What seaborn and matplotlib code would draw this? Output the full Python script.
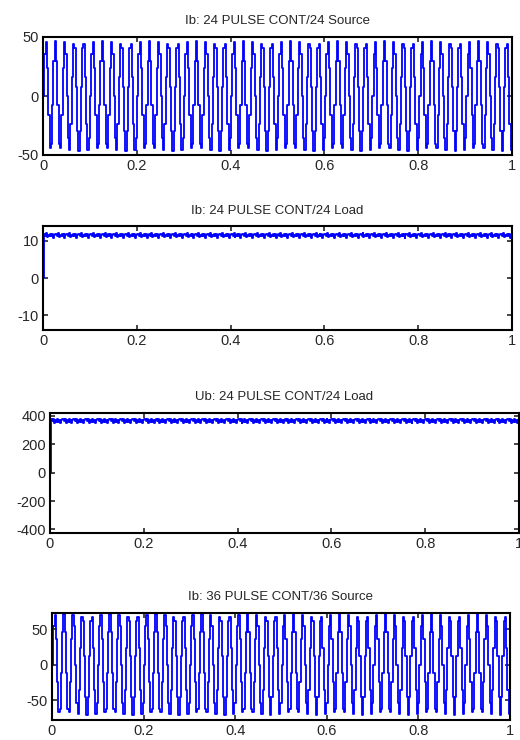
import numpy as np
import pandas as pd
import matplotlib
matplotlib.use('Agg')
import matplotlib.pyplot as plt
import seaborn as sns

# stepped source currents: one 0.1 s block of samples, repeated 10 times
src24_block = [0, 36, 46, 24, -16, -44, -41, -8, 30, 47, 30, -8,
               -41, -44, -16, 24, 46, 36, 0, -36, -46, -24, 16, 44,
               41, 8, -30, -47, -30, 8, 41, 44, 16, -24, -46, -36]
src36_block = [0, 54, 70, 36, -24, -67, -62, -12, 46, 71, 46, -12,
               -62, -67, -24, 36, 70, 54, 0, -54, -70, -36, 24, 67,
               62, 12, -46, -71, -46, 12, 62, 67, 24, -36, -70, -54]
n_blocks = 10

# load current / voltage: start value then a short repeating ripple pattern
load_i_ripple = [11.8, 11.3, 12.0, 11.1, 11.7, 11.4, 11.9, 11.3, 11.8, 10.9, 11.6, 11.9]
load_u_ripple = [375, 362, 378, 352, 372, 360, 380, 358, 374, 348, 368, 377]
n_ripple = 40

titles = ['Ib: 24 PULSE CONT/24 Source', 'Ib: 24 PULSE CONT/24 Load',
          'Ub: 24 PULSE CONT/24 Load', 'Ib: 36 PULSE CONT/36 Source']
ylims = [(-50, 50), (-14, 14), (-425, 420), (-78, 73)]
yticks = [[-50, 0, 50], [-10, 0, 10], [-400, -200, 0, 200, 400], [-50, 0, 50]]
xticks = [0, 0.2, 0.4, 0.6, 0.8, 1]
xticklabels = ['0', '0.2', '0.4', '0.6', '0.8', '1']


def make_series(block, reps, start=None):
    y = list(block) * reps
    if start is not None:
        y = [start] + y
    t = np.linspace(0, 1, len(y))
    return pd.DataFrame({'t': t, 'y': y})


series = [make_series(src24_block, n_blocks),
          make_series(load_i_ripple, n_ripple, start=0),
          make_series(load_u_ripple, n_ripple, start=0),
          make_series(src36_block, n_blocks)]

sns.set_style('ticks')
plt.rcParams['font.family'] = ['Liberation Sans', 'DejaVu Sans']
plt.rcParams['axes.unicode_minus'] = False

fig = plt.figure(figsize=(5.2, 7.4), dpi=100)
W, H = 520, 740
boxes = [(43, 37, 512, 155), (43, 226, 512, 330), (50, 413, 519, 533), (52, 613, 510, 720)]

for i, (x0, y0, x1, y1) in enumerate(boxes):
    ax = fig.add_axes([x0 / W, 1 - y1 / H, (x1 - x0) / W, (y1 - y0) / H])
    sns.lineplot(data=series[i], x='t', y='y', ax=ax, color='#0000ff', lw=1.3,
                 estimator=None, errorbar=None, drawstyle='steps-post')
    ax.set_xlim(0, 1)
    ax.set_ylim(*ylims[i])
    ax.set_xticks(xticks)
    ax.set_xticklabels(xticklabels)
    ax.set_yticks(yticks[i])
    ax.set_xlabel('')
    ax.set_ylabel('')
    ax.set_title(titles[i], fontsize=9.5, pad=9)
    ax.tick_params(direction='in', top=True, right=True, length=3.5, width=1.2,
                   labelsize=10.5, pad=3)
    for s in ax.spines.values():
        s.set_linewidth(1.5)
        s.set_color('black')

fig.savefig('out.png', dpi=100)
